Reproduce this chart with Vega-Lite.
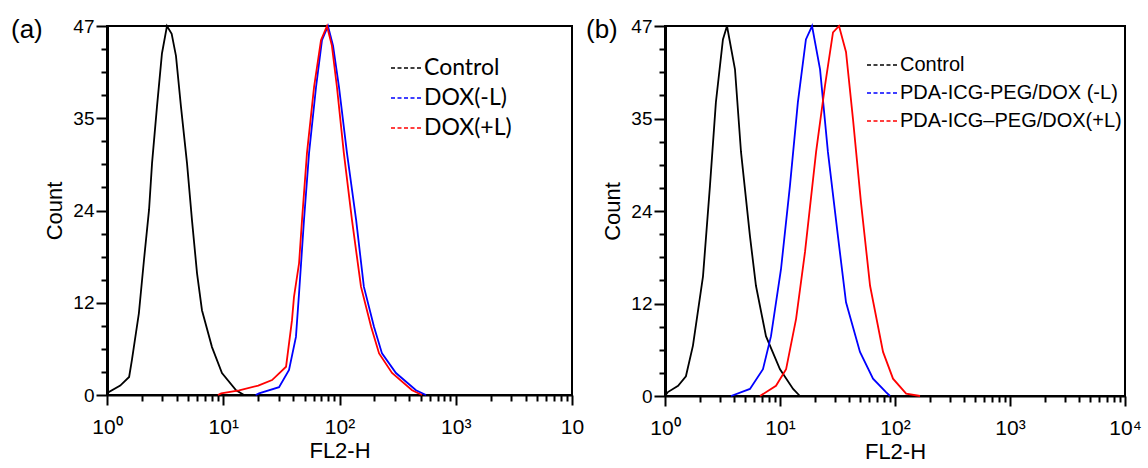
{
  "$schema": "https://vega.github.io/schema/vega-lite/v6.json",
  "padding": {"left": 10, "top": 16, "right": 5, "bottom": 4},
  "background": "white",
  "spacing": 0,
  "datasets": {
    "a": [
      {"sample": "Control", "fl2h": 1.0, "count": 0},
      {"sample": "Control", "fl2h": 1.04, "count": 0.4},
      {"sample": "Control", "fl2h": 1.3, "count": 1.2},
      {"sample": "Control", "fl2h": 1.55, "count": 2.3},
      {"sample": "Control", "fl2h": 1.64, "count": 4.5},
      {"sample": "Control", "fl2h": 1.88, "count": 10.4},
      {"sample": "Control", "fl2h": 2.08, "count": 17.2},
      {"sample": "Control", "fl2h": 2.3, "count": 23.6},
      {"sample": "Control", "fl2h": 2.44, "count": 29.5},
      {"sample": "Control", "fl2h": 2.69, "count": 36.7},
      {"sample": "Control", "fl2h": 2.97, "count": 43.5},
      {"sample": "Control", "fl2h": 3.28, "count": 47},
      {"sample": "Control", "fl2h": 3.6, "count": 46},
      {"sample": "Control", "fl2h": 3.92, "count": 43.2},
      {"sample": "Control", "fl2h": 4.33, "count": 36.7},
      {"sample": "Control", "fl2h": 4.88, "count": 29.5},
      {"sample": "Control", "fl2h": 5.38, "count": 22.3},
      {"sample": "Control", "fl2h": 5.95, "count": 15.5},
      {"sample": "Control", "fl2h": 6.56, "count": 10.8},
      {"sample": "Control", "fl2h": 8.0, "count": 6.1},
      {"sample": "Control", "fl2h": 9.75, "count": 2.8},
      {"sample": "Control", "fl2h": 12.9, "count": 0.6},
      {"sample": "Control", "fl2h": 15.1, "count": 0},
      {"sample": "DOX(-L)", "fl2h": 19, "count": 0},
      {"sample": "DOX(-L)", "fl2h": 20.3, "count": 0.2},
      {"sample": "DOX(-L)", "fl2h": 30.2, "count": 1.0},
      {"sample": "DOX(-L)", "fl2h": 36.8, "count": 3.2},
      {"sample": "DOX(-L)", "fl2h": 42.2, "count": 7.4},
      {"sample": "DOX(-L)", "fl2h": 44.9, "count": 13},
      {"sample": "DOX(-L)", "fl2h": 49.5, "count": 22.3},
      {"sample": "DOX(-L)", "fl2h": 54.7, "count": 30.8},
      {"sample": "DOX(-L)", "fl2h": 62.8, "count": 39.2},
      {"sample": "DOX(-L)", "fl2h": 70.7, "count": 45.2},
      {"sample": "DOX(-L)", "fl2h": 79.6, "count": 47},
      {"sample": "DOX(-L)", "fl2h": 88, "count": 44.5},
      {"sample": "DOX(-L)", "fl2h": 99, "count": 39.2},
      {"sample": "DOX(-L)", "fl2h": 116, "count": 30.8},
      {"sample": "DOX(-L)", "fl2h": 139, "count": 22.3},
      {"sample": "DOX(-L)", "fl2h": 162, "count": 13.8},
      {"sample": "DOX(-L)", "fl2h": 198, "count": 8.7},
      {"sample": "DOX(-L)", "fl2h": 232, "count": 5.3},
      {"sample": "DOX(-L)", "fl2h": 306, "count": 2.8},
      {"sample": "DOX(-L)", "fl2h": 455, "count": 0.6},
      {"sample": "DOX(-L)", "fl2h": 555, "count": 0},
      {"sample": "DOX(+L)", "fl2h": 9, "count": 0},
      {"sample": "DOX(+L)", "fl2h": 9.6, "count": 0.2},
      {"sample": "DOX(+L)", "fl2h": 13.7, "count": 0.6},
      {"sample": "DOX(+L)", "fl2h": 20, "count": 1.2},
      {"sample": "DOX(+L)", "fl2h": 26.3, "count": 1.9},
      {"sample": "DOX(+L)", "fl2h": 34.7, "count": 3.6},
      {"sample": "DOX(+L)", "fl2h": 39.0, "count": 9.5},
      {"sample": "DOX(+L)", "fl2h": 40.6, "count": 12.5},
      {"sample": "DOX(+L)", "fl2h": 44.9, "count": 16.8},
      {"sample": "DOX(+L)", "fl2h": 47.6, "count": 22.3},
      {"sample": "DOX(+L)", "fl2h": 52.5, "count": 30.8},
      {"sample": "DOX(+L)", "fl2h": 60.4, "count": 39.2},
      {"sample": "DOX(+L)", "fl2h": 69.3, "count": 45.2},
      {"sample": "DOX(+L)", "fl2h": 78.0, "count": 47},
      {"sample": "DOX(+L)", "fl2h": 86, "count": 44.5},
      {"sample": "DOX(+L)", "fl2h": 95.1, "count": 39.2},
      {"sample": "DOX(+L)", "fl2h": 109, "count": 30.8},
      {"sample": "DOX(+L)", "fl2h": 128, "count": 22.3},
      {"sample": "DOX(+L)", "fl2h": 153, "count": 13.8},
      {"sample": "DOX(+L)", "fl2h": 187, "count": 8.7},
      {"sample": "DOX(+L)", "fl2h": 219, "count": 5.3},
      {"sample": "DOX(+L)", "fl2h": 283, "count": 2.8},
      {"sample": "DOX(+L)", "fl2h": 421, "count": 0.6},
      {"sample": "DOX(+L)", "fl2h": 513, "count": 0}
    ],
    "b": [
      {"sample": "Control", "fl2h": 1.0, "count": 0},
      {"sample": "Control", "fl2h": 1.06, "count": 0.5},
      {"sample": "Control", "fl2h": 1.3, "count": 1.3},
      {"sample": "Control", "fl2h": 1.52, "count": 2.5},
      {"sample": "Control", "fl2h": 1.75, "count": 6.4},
      {"sample": "Control", "fl2h": 2.14, "count": 15.2},
      {"sample": "Control", "fl2h": 2.46, "count": 26.7},
      {"sample": "Control", "fl2h": 2.77, "count": 37.3},
      {"sample": "Control", "fl2h": 3.19, "count": 45.3},
      {"sample": "Control", "fl2h": 3.46, "count": 47},
      {"sample": "Control", "fl2h": 4.06, "count": 41.5},
      {"sample": "Control", "fl2h": 4.58, "count": 31},
      {"sample": "Control", "fl2h": 5.48, "count": 20.3},
      {"sample": "Control", "fl2h": 6.18, "count": 14},
      {"sample": "Control", "fl2h": 7.55, "count": 7.6},
      {"sample": "Control", "fl2h": 10.0, "count": 3.4},
      {"sample": "Control", "fl2h": 13.0, "count": 0.9},
      {"sample": "Control", "fl2h": 14.9, "count": 0},
      {"sample": "PDA-ICG-PEG/DOX (-L)", "fl2h": 3.75, "count": 0},
      {"sample": "PDA-ICG-PEG/DOX (-L)", "fl2h": 5.48, "count": 0.9},
      {"sample": "PDA-ICG-PEG/DOX (-L)", "fl2h": 7.11, "count": 3.4},
      {"sample": "PDA-ICG-PEG/DOX (-L)", "fl2h": 8.35, "count": 7.6},
      {"sample": "PDA-ICG-PEG/DOX (-L)", "fl2h": 10.2, "count": 16.1},
      {"sample": "PDA-ICG-PEG/DOX (-L)", "fl2h": 12.2, "count": 26.7},
      {"sample": "PDA-ICG-PEG/DOX (-L)", "fl2h": 14.3, "count": 37.3},
      {"sample": "PDA-ICG-PEG/DOX (-L)", "fl2h": 16.8, "count": 45.3},
      {"sample": "PDA-ICG-PEG/DOX (-L)", "fl2h": 19.0, "count": 47},
      {"sample": "PDA-ICG-PEG/DOX (-L)", "fl2h": 22.3, "count": 41.5},
      {"sample": "PDA-ICG-PEG/DOX (-L)", "fl2h": 26.1, "count": 31},
      {"sample": "PDA-ICG-PEG/DOX (-L)", "fl2h": 31.9, "count": 20.3},
      {"sample": "PDA-ICG-PEG/DOX (-L)", "fl2h": 37.5, "count": 11.9},
      {"sample": "PDA-ICG-PEG/DOX (-L)", "fl2h": 49.6, "count": 5.6},
      {"sample": "PDA-ICG-PEG/DOX (-L)", "fl2h": 64.4, "count": 2.2},
      {"sample": "PDA-ICG-PEG/DOX (-L)", "fl2h": 83.5, "count": 0.5},
      {"sample": "PDA-ICG-PEG/DOX (-L)", "fl2h": 90.5, "count": 0},
      {"sample": "PDA-ICG–PEG/DOX(+L)", "fl2h": 6.7, "count": 0},
      {"sample": "PDA-ICG–PEG/DOX(+L)", "fl2h": 9.23, "count": 1.3},
      {"sample": "PDA-ICG–PEG/DOX(+L)", "fl2h": 11.3, "count": 3.4},
      {"sample": "PDA-ICG–PEG/DOX(+L)", "fl2h": 13.8, "count": 9.8},
      {"sample": "PDA-ICG–PEG/DOX(+L)", "fl2h": 16.5, "count": 18.3},
      {"sample": "PDA-ICG–PEG/DOX(+L)", "fl2h": 20.6, "count": 31},
      {"sample": "PDA-ICG–PEG/DOX(+L)", "fl2h": 24.6, "count": 39.4},
      {"sample": "PDA-ICG–PEG/DOX(+L)", "fl2h": 28.9, "count": 46.2},
      {"sample": "PDA-ICG–PEG/DOX(+L)", "fl2h": 32.6, "count": 47},
      {"sample": "PDA-ICG–PEG/DOX(+L)", "fl2h": 37.5, "count": 43.7},
      {"sample": "PDA-ICG–PEG/DOX(+L)", "fl2h": 43.1, "count": 35.2},
      {"sample": "PDA-ICG–PEG/DOX(+L)", "fl2h": 50.6, "count": 24.6},
      {"sample": "PDA-ICG–PEG/DOX(+L)", "fl2h": 60.7, "count": 14},
      {"sample": "PDA-ICG–PEG/DOX(+L)", "fl2h": 78.7, "count": 5.6},
      {"sample": "PDA-ICG–PEG/DOX(+L)", "fl2h": 96.1, "count": 2.2},
      {"sample": "PDA-ICG–PEG/DOX(+L)", "fl2h": 125, "count": 0.3},
      {"sample": "PDA-ICG–PEG/DOX(+L)", "fl2h": 165, "count": 0}
    ]
  },
  "config": {
    "font": "Liberation Sans",
    "view": {"stroke": "black", "strokeWidth": 2},
    "axis": {
      "grid": false,
      "domainColor": "black",
      "tickColor": "black",
      "labelColor": "black",
      "titleColor": "black",
      "labelFont": "Liberation Sans",
      "titleFont": "Liberation Sans",
      "titleFontWeight": "normal",
      "labelOverlap": false,
      "labelFlush": false,
      "tickWidth": 2
    },
    "axisX": {"domainWidth": 2, "labelFontSize": 21, "titleFontSize": 22, "labelPadding": 11, "titlePadding": 3},
    "axisY": {"domainWidth": 3, "labelFontSize": 19, "titleFontSize": 22, "labelPadding": 2, "titlePadding": 6},
    "legend": {
      "orient": "none",
      "title": null,
      "symbolType": "stroke",
      "symbolDash": [4, 2.5],
      "symbolStrokeWidth": 1.6,
      "symbolSize": 900,
      "labelColor": "black",
      "labelOffset": 2,
      "labelLimit": 0,
      "rowPadding": 2
    },
    "title": {"fontWeight": "normal", "fontSize": 26, "color": "black", "font": "Liberation Sans"}
  },
  "resolve": {"scale": {"color": "independent"}, "legend": {"color": "independent"}},
  "hconcat": [
    {
      "width": 465,
      "height": 369,
      "title": {"text": "(a)", "anchor": "start", "frame": "group", "dx": -96, "dy": 35, "offset": -12, "baseline": "alphabetic"},
      "data": {"name": "a"},
      "mark": {"type": "line", "strokeWidth": 1.8},
      "encoding": {
        "x": {
          "field": "fl2h", "type": "quantitative",
          "scale": {"type": "log", "domain": [1, 10000], "nice": false},
          "axis": {
            "title": "FL2-H",
            "values": [1,2,3,4,5,6,7,8,9,10,20,30,40,50,60,70,80,90,100,200,300,400,500,600,700,800,900,1000,2000,3000,4000,5000,6000,7000,8000,9000,10000],
            "labelExpr": "datum.value == 1 ? '10⁰' : datum.value == 10 ? '10¹' : datum.value == 100 ? '10²' : datum.value == 1000 ? '10³' : datum.value == 10000 ? '10' : ''",
            "tickSize": {"condition": {"test": "datum.value == 1 || datum.value == 10 || datum.value == 100 || datum.value == 1000 || datum.value == 10000", "value": 10}, "value": 6}
          }
        },
        "y": {
          "field": "count", "type": "quantitative",
          "scale": {"domain": [0, 47], "nice": false},
          "axis": {
            "title": "Count",
            "values": [0, 2.9375, 5.875, 8.8125, 11.75, 14.6875, 17.625, 20.5625, 23.5, 26.4375, 29.375, 32.3125, 35.25, 38.1875, 41.125, 44.0625, 47],
            "labelExpr": "datum.value == 0 ? '0' : datum.value == 11.75 ? '12' : datum.value == 23.5 ? '24' : datum.value == 35.25 ? '35' : datum.value == 47 ? '47' : ''",
            "tickSize": {"condition": {"test": "datum.value == 0 || datum.value == 11.75 || datum.value == 23.5 || datum.value == 35.25 || datum.value == 47", "value": 11}, "value": 6}
          }
        },
        "color": {
          "field": "sample", "type": "nominal",
          "scale": {"domain": ["Control", "DOX(-L)", "DOX(+L)"], "range": ["#000000", "#0000ff", "#ff0000"]},
          "legend": {"legendX": 283, "legendY": 26, "labelFont": "Lato", "labelFontSize": 23}
        }
      }
    },
    {
      "width": 460,
      "height": 370,
      "title": {"text": "(b)", "anchor": "start", "frame": "group", "dx": -79, "dy": 35, "offset": -12, "baseline": "alphabetic"},
      "data": {"name": "b"},
      "mark": {"type": "line", "strokeWidth": 1.8},
      "encoding": {
        "x": {
          "field": "fl2h", "type": "quantitative",
          "scale": {"type": "log", "domain": [1, 10000], "nice": false},
          "axis": {
            "title": "FL2-H",
            "values": [1,2,3,4,5,6,7,8,9,10,20,30,40,50,60,70,80,90,100,200,300,400,500,600,700,800,900,1000,2000,3000,4000,5000,6000,7000,8000,9000,10000],
            "labelExpr": "datum.value == 1 ? '10⁰' : datum.value == 10 ? '10¹' : datum.value == 100 ? '10²' : datum.value == 1000 ? '10³' : datum.value == 10000 ? '10⁴' : ''",
            "tickSize": {"condition": {"test": "datum.value == 1 || datum.value == 10 || datum.value == 100 || datum.value == 1000 || datum.value == 10000", "value": 10}, "value": 6}
          }
        },
        "y": {
          "field": "count", "type": "quantitative",
          "scale": {"domain": [0, 47], "nice": false},
          "axis": {
            "title": "Count",
            "values": [0, 2.9375, 5.875, 8.8125, 11.75, 14.6875, 17.625, 20.5625, 23.5, 26.4375, 29.375, 32.3125, 35.25, 38.1875, 41.125, 44.0625, 47],
            "labelExpr": "datum.value == 0 ? '0' : datum.value == 11.75 ? '12' : datum.value == 23.5 ? '24' : datum.value == 35.25 ? '35' : datum.value == 47 ? '47' : ''",
            "tickSize": {"condition": {"test": "datum.value == 0 || datum.value == 11.75 || datum.value == 23.5 || datum.value == 35.25 || datum.value == 47", "value": 11}, "value": 6}
          }
        },
        "color": {
          "field": "sample", "type": "nominal",
          "scale": {"domain": ["Control", "PDA-ICG-PEG/DOX (-L)", "PDA-ICG–PEG/DOX(+L)"], "range": ["#000000", "#0000ff", "#ff0000"]},
          "legend": {"legendX": 201, "legendY": 23, "labelFont": "Liberation Sans", "labelFontSize": 20}
        }
      }
    }
  ]
}
